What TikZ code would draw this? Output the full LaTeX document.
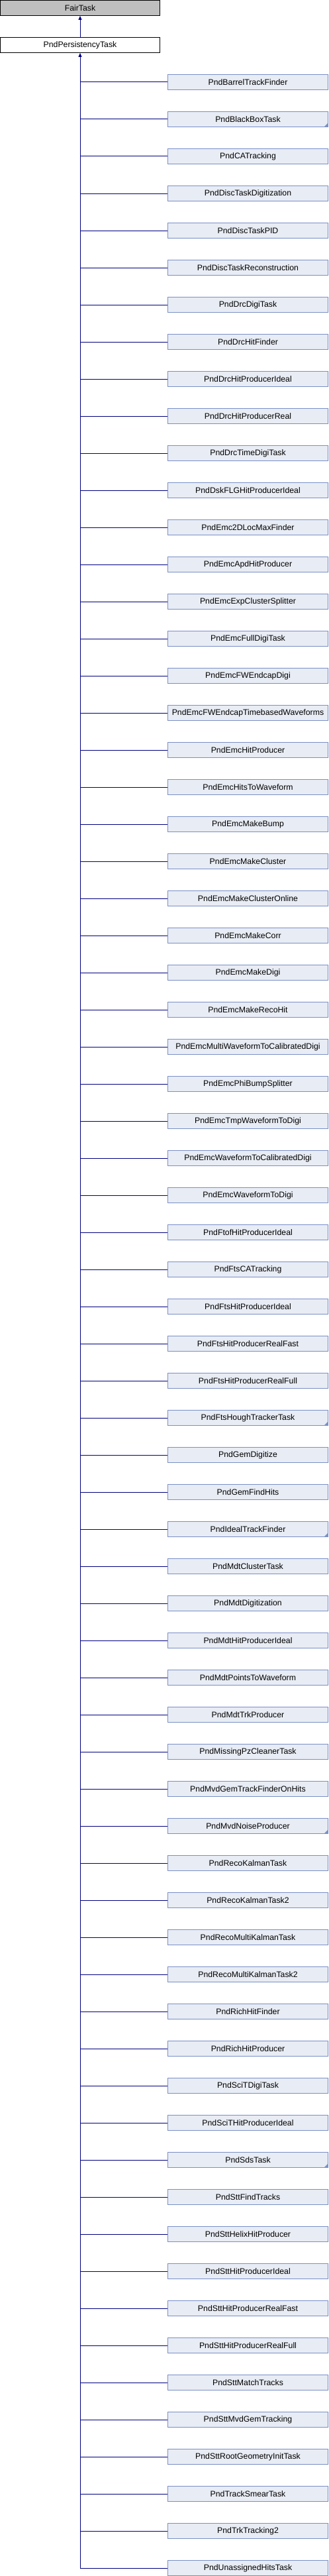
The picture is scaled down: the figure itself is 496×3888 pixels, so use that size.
\documentclass[tikz,border=0pt]{standalone}
\usepackage{fontspec}
\setmainfont{Liberation Sans}
\usetikzlibrary{arrows.meta}
\definecolor{edgeblue}{HTML}{000080}
\definecolor{childfill}{HTML}{E8ECF4}
\definecolor{childdraw}{HTML}{7A8FC6}
\definecolor{basefill}{HTML}{BFBFBF}
\begin{document}
\begin{tikzpicture}[x=1pt,y=-1pt,
  every node/.style={font=\fontsize{12.3}{14}\selectfont, inner sep=0pt, minimum height=23pt, minimum width=241pt, line width=1pt},
  basebox/.style={draw=black, fill=basefill},
  parentbox/.style={draw=black, fill=white},
  childbox/.style={draw=childdraw, fill=childfill, minimum width=242pt},
  edge/.style={draw=edgeblue, line width=1pt},
  inh/.style={edge, -{Triangle[length=6pt,width=5pt]}},
  corner/.style={fill=childdraw}]
\useasboundingbox (0,0) rectangle (496,3888);
\node[basebox] (fair) at (121,12) {FairTask};
\node[parentbox] (pers) at (121,68) {PndPersistencyTask};
\draw[inh] (pers.north) -- (fair.south);
\foreach \n [count=\i] in {PndBarrelTrackFinder,PndBlackBoxTask,PndCATracking,PndDiscTaskDigitization,PndDiscTaskPID,PndDiscTaskReconstruction,PndDrcDigiTask,PndDrcHitFinder,PndDrcHitProducerIdeal,PndDrcHitProducerReal,PndDrcTimeDigiTask,PndDskFLGHitProducerIdeal,PndEmc2DLocMaxFinder,PndEmcApdHitProducer,PndEmcExpClusterSplitter,PndEmcFullDigiTask,PndEmcFWEndcapDigi,PndEmcFWEndcapTimebasedWaveforms,PndEmcHitProducer,PndEmcHitsToWaveform,PndEmcMakeBump,PndEmcMakeCluster,PndEmcMakeClusterOnline,PndEmcMakeCorr,PndEmcMakeDigi,PndEmcMakeRecoHit,PndEmcMultiWaveformToCalibratedDigi,PndEmcPhiBumpSplitter,PndEmcTmpWaveformToDigi,PndEmcWaveformToCalibratedDigi,PndEmcWaveformToDigi,PndFtofHitProducerIdeal,PndFtsCATracking,PndFtsHitProducerIdeal,PndFtsHitProducerRealFast,PndFtsHitProducerRealFull,PndFtsHoughTrackerTask,PndGemDigitize,PndGemFindHits,PndIdealTrackFinder,PndMdtClusterTask,PndMdtDigitization,PndMdtHitProducerIdeal,PndMdtPointsToWaveform,PndMdtTrkProducer,PndMissingPzCleanerTask,PndMvdGemTrackFinderOnHits,PndMvdNoiseProducer,PndRecoKalmanTask,PndRecoKalmanTask2,PndRecoMultiKalmanTask,PndRecoMultiKalmanTask2,PndRichHitFinder,PndRichHitProducer,PndSciTDigiTask,PndSciTHitProducerIdeal,PndSdsTask,PndSttFindTracks,PndSttHelixHitProducer,PndSttHitProducerIdeal,PndSttHitProducerRealFast,PndSttHitProducerRealFull,PndSttMatchTracks,PndSttMvdGemTracking,PndSttRootGeometryInitTask,PndTrackSmearTask,PndTrkTracking2,PndUnassignedHitsTask} {
  \node[childbox] (c\i) at (374.5,{124+56*(\i-1)}) {\n};
  \draw[edge] (c\i.west) -- (c\i.west -| pers.south);
}
\draw[inh] (c68.west -| pers.south) -- (pers.south);
\foreach \i in {2,37,40,48,57} {
  \fill[corner] ([xshift=-0.5pt,yshift=0.5pt]c\i.south east) -- ++(-6,0) -- ++(6,-6) -- cycle;
}
\end{tikzpicture}
\end{document}
